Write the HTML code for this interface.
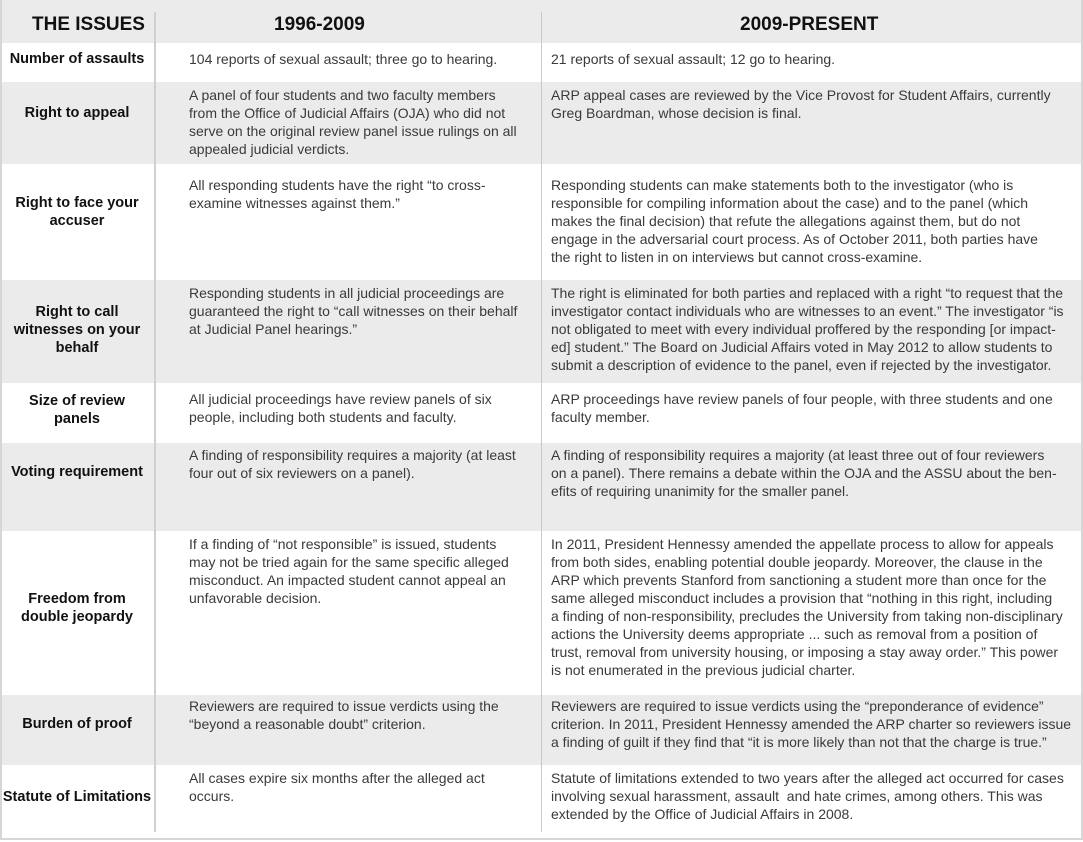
<!DOCTYPE html>
<html><head><meta charset="utf-8"><style>
body{margin:0;width:1083px;height:842px;background:#fff;position:relative;overflow:hidden;font-family:"Liberation Sans",sans-serif}
.frame{position:absolute;left:0;top:0;width:1079px;height:838px;border:2px solid #d6d6d6;border-top:none}
.r{position:absolute;left:2px;width:1079px}
.g{background:#ebebeb}
.l{position:absolute;left:0;width:154px;text-align:center;font-weight:bold;font-size:14.5px;color:#111;line-height:18px}
.c{position:absolute;font-size:14px;color:#3a3a3a;line-height:18px;white-space:nowrap}
.c2{left:189px}.c3{left:551px}
.v{position:absolute;top:12px;width:1px;height:820px;background:#c8c8c8}
.h{position:absolute;font-weight:bold;font-size:19px;color:#111;top:14px}
</style></head><body>
<div class="r g" style="top:0;height:43px"></div>
<div class="r g" style="top:82px;height:82px"></div>
<div class="r g" style="top:280px;height:103px"></div>
<div class="r g" style="top:443px;height:88px"></div>
<div class="r g" style="top:695px;height:70px"></div>
<div class="frame"></div>
<div class="v" style="left:154px;width:2px;background:#d0d0d0"></div>
<div class="v" style="left:541px"></div>
<div class="h" style="left:32px;width:115px">THE ISSUES</div>
<div class="h" style="left:274px">1996-2009</div>
<div class="h" style="left:740px">2009-PRESENT</div>

<div class="l" style="top:50px">Number of assaults</div>
<div class="c c2" style="top:50px">104 reports of sexual assault; three go to hearing.</div>
<div class="c c3" style="top:50px">21 reports of sexual assault; 12 go to hearing.</div>

<div class="l" style="top:104px">Right to appeal</div>
<div class="c c2" style="top:86px">A panel of four students and two faculty members<br>from the Office of Judicial Affairs (OJA) who did not<br>serve on the original review panel issue rulings on all<br>appealed judicial verdicts.</div>
<div class="c c3" style="top:86px">ARP appeal cases are reviewed by the Vice Provost for Student Affairs, currently<br>Greg Boardman, whose decision is final.</div>

<div class="l" style="top:194px">Right to face your<br>accuser</div>
<div class="c c2" style="top:176px">All responding students have the right “to cross-<br>examine witnesses against them.”</div>
<div class="c c3" style="top:176px">Responding students can make statements both to the investigator (who is<br>responsible for compiling information about the case) and to the panel (which<br>makes the final decision) that refute the allegations against them, but do not<br>engage in the adversarial court process. As of October 2011, both parties have<br>the right to listen in on interviews but cannot cross-examine.</div>

<div class="l" style="top:303px">Right to call<br>witnesses on your<br>behalf</div>
<div class="c c2" style="top:284px">Responding students in all judicial proceedings are<br>guaranteed the right to “call witnesses on their behalf<br>at Judicial Panel hearings.”</div>
<div class="c c3" style="top:284px">The right is eliminated for both parties and replaced with a right “to request that the<br>investigator contact individuals who are witnesses to an event.” The investigator “is<br>not obligated to meet with every individual proffered by the responding [or impact-<br>ed] student.” The Board on Judicial Affairs voted in May 2012 to allow students to<br>submit a description of evidence to the panel, even if rejected by the investigator.</div>

<div class="l" style="top:392px">Size of review<br>panels</div>
<div class="c c2" style="top:390px">All judicial proceedings have review panels of six<br>people, including both students and faculty.</div>
<div class="c c3" style="top:390px">ARP proceedings have review panels of four people, with three students and one<br>faculty member.</div>

<div class="l" style="top:463px">Voting requirement</div>
<div class="c c2" style="top:446px">A finding of responsibility requires a majority (at least<br>four out of six reviewers on a panel).</div>
<div class="c c3" style="top:446px">A finding of responsibility requires a majority (at least three out of four reviewers<br>on a panel). There remains a debate within the OJA and the ASSU about the ben-<br>efits of requiring unanimity for the smaller panel.</div>

<div class="l" style="top:590px">Freedom from<br>double jeopardy</div>
<div class="c c2" style="top:535px">If a finding of “not responsible” is issued, students<br>may not be tried again for the same specific alleged<br>misconduct. An impacted student cannot appeal an<br>unfavorable decision.</div>
<div class="c c3" style="top:535px">In 2011, President Hennessy amended the appellate process to allow for appeals<br>from both sides, enabling potential double jeopardy. Moreover, the clause in the<br>ARP which prevents Stanford from sanctioning a student more than once for the<br>same alleged misconduct includes a provision that “nothing in this right, including<br>a finding of non-responsibility, precludes the University from taking non-disciplinary<br>actions the University deems appropriate ... such as removal from a position of<br>trust, removal from university housing, or imposing a stay away order.” This power<br>is not enumerated in the previous judicial charter.</div>

<div class="l" style="top:715px">Burden of proof</div>
<div class="c c2" style="top:697px">Reviewers are required to issue verdicts using the<br>“beyond a reasonable doubt” criterion.</div>
<div class="c c3" style="top:697px">Reviewers are required to issue verdicts using the “preponderance of evidence”<br>criterion. In 2011, President Hennessy amended the ARP charter so reviewers issue<br>a finding of guilt if they find that “it is more likely than not that the charge is true.”</div>

<div class="l" style="top:788px">Statute of Limitations</div>
<div class="c c2" style="top:769px">All cases expire six months after the alleged act<br>occurs.</div>
<div class="c c3" style="top:769px">Statute of limitations extended to two years after the alleged act occurred for cases<br>involving sexual harassment, assault &nbsp;and hate crimes, among others. This was<br>extended by the Office of Judicial Affairs in 2008.</div>
</body></html>
